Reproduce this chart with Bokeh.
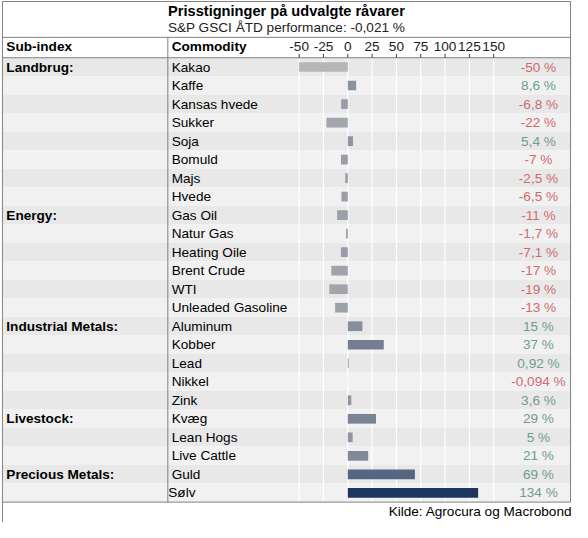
from bokeh.plotting import figure
from bokeh.models import Range1d, ColumnDataSource
from bokeh.core.properties import value
from bokeh.embed import file_html
from bokeh.resources import INLINE

# ---------------- data ----------------
title = "Prisstigninger på udvalgte råvarer"
subtitle = "S&P GSCI ÅTD performance: -0,021 %"
source_note = "Kilde: Agrocura og Macrobond"

commodities = ["Kakao", "Kaffe", "Kansas hvede", "Sukker", "Soja", "Bomuld", "Majs", "Hvede",
               "Gas Oil", "Natur Gas", "Heating Oile", "Brent Crude", "WTI", "Unleaded Gasoline",
               "Aluminum", "Kobber", "Lead", "Nikkel", "Zink",
               "Kvæg", "Lean Hogs", "Live Cattle",
               "Guld", "Sølv"]
performance = [-50, 8.6, -6.8, -22, 5.4, -7, -2.5, -6.5,
               -11, -1.7, -7.1, -17, -19, -13,
               15, 37, 0.92, -0.094, 3.6,
               29, 5, 21,
               69, 134]
value_labels = ["-50 %", "8,6 %", "-6,8 %", "-22 %", "5,4 %", "-7 %", "-2,5 %", "-6,5 %",
                "-11 %", "-1,7 %", "-7,1 %", "-17 %", "-19 %", "-13 %",
                "15 %", "37 %", "0,92 %", "-0,094 %", "3,6 %",
                "29 %", "5 %", "21 %",
                "69 %", "134 %"]
subindex_names = ["Landbrug:", "Energy:", "Industrial Metals:", "Livestock:", "Precious Metals:"]
subindex_sizes = [8, 6, 5, 3, 2]
tick_values = [-50, -25, 0, 25, 50, 75, 100, 125, 150]
tick_labels = ["-50", "-25", "0", "25", "50", "75", "100", "125", "150"]

# ---------------- layout helpers (reference pixel -> data units) ----------------
W, H = 572, 522
REF_W, REF_H = 588, 538
F = W / REF_W
ZERO_X = 357.0
ROW_TOP = 59.0
ROW_H = (517.0 - 59.0) / len(commodities)

def vx(X):
    return X - ZERO_X

def ry(Y):
    return (Y - ROW_TOP) / ROW_H - 0.5

def fs(px):
    return f"{px * F:.1f}px"

FONT = value("Liberation Sans")
BORDER = "#808080"
TXT = "#000000"

p = figure(width=W, height=H, x_range=Range1d(vx(0), vx(REF_W)), y_range=Range1d(ry(REF_H), ry(0)),
           output_backend="svg", toolbar_location=None, min_border=0,
           x_axis_type=None, y_axis_type=None)
p.grid.visible = False
p.outline_line_color = None
p.background_fill_color = "white"
p.border_fill_color = "white"

n = len(commodities)
rows = list(range(n))

# row shading
row_colors = ["#e8e8e8" if i % 2 == 0 else "#f1f1f1" for i in rows]
p.hbar(y=rows, left=vx(2), right=vx(586), height=1.0, fill_color=row_colors, line_color=None)

# vertical white grid lines in the bar area
p.segment(x0=tick_values, x1=tick_values, y0=[-0.5] * len(tick_values), y1=[n - 0.5] * len(tick_values),
          line_color="white", line_width=1.2)

# bars, colour from light grey (negative) to navy (large positive)
def bar_color(v):
    lo, mid, hi = (182, 182, 182), (148, 153, 164), (28, 54, 94)
    if v < 0:
        t = min(-v / 50.0, 1.0)
        c = [mid[k] + (lo[k] - mid[k]) * t for k in range(3)]
    else:
        t = min(v / 134.0, 1.0)
        c = [mid[k] + (hi[k] - mid[k]) * t for k in range(3)]
    return "#%02x%02x%02x" % tuple(int(round(x)) for x in c)

bar_src = ColumnDataSource(dict(y=rows, right=performance, color=[bar_color(v) for v in performance]))
p.hbar(y="y", left=0, right="right", height=10.0 / ROW_H, fill_color="color", line_color=None, source=bar_src)

# borders
hl = dict(line_color=BORDER, line_width=1)
p.segment(x0=[vx(2), vx(2), vx(2), vx(2)], x1=[vx(586)] * 4,
          y0=[ry(1), ry(38), ry(59), ry(517)], y1=[ry(1), ry(38), ry(59), ry(517)], **hl)
p.segment(x0=[vx(2), vx(586), vx(172)], x1=[vx(2), vx(586), vx(172)],
          y0=[ry(1), ry(1), ry(38)], y1=[ry(538), ry(517), ry(517)], **hl)

# tick marks and tick labels
p.segment(x0=tick_values, x1=tick_values, y0=[ry(55)] * len(tick_values), y1=[ry(59)] * len(tick_values),
          line_color="#404040", line_width=1)
p.text(x=tick_values, y=[ry(47)] * len(tick_values), text=tick_labels, text_font=FONT,
       text_font_size=fs(14), text_align="center", text_baseline="middle", text_color="#222222")

# title and subtitle
p.text(x=[vx(294)], y=[ry(11)], text=[title], text_font=FONT, text_font_size=fs(15),
       text_font_style="bold", text_align="center", text_baseline="middle", text_color=TXT)
p.text(x=[vx(294)], y=[ry(28)], text=[subtitle], text_font=FONT, text_font_size=fs(14),
       text_align="center", text_baseline="middle", text_color="#222222")

# header
p.text(x=[vx(6), vx(176)], y=[ry(47), ry(47)], text=["Sub-index", "Commodity"], text_font=FONT,
       text_font_size=fs(14), text_font_style="bold", text_align="left", text_baseline="middle",
       text_color=TXT)

# sub-index labels
sub_rows = []
acc = 0
for s in subindex_sizes:
    sub_rows.append(acc)
    acc += s
p.text(x=[vx(6)] * len(sub_rows), y=sub_rows, text=subindex_names, text_font=FONT,
       text_font_size=fs(14), text_font_style="bold", text_align="left", text_baseline="middle",
       text_color=TXT)

# commodity names
name_x = [vx(176)] * (n - 1) + [vx(172.5)]
p.text(x=name_x, y=rows, text=commodities, text_font=FONT, text_font_size=fs(14),
       text_align="left", text_baseline="middle", text_color=TXT)

# value labels
val_colors = ["#cf6b70" if v < 0 else "#6f9d8c" for v in performance]
p.text(x=[vx(553)] * n, y=rows, text=value_labels, text_font=FONT, text_font_size=fs(14),
       text_align="center", text_baseline="middle", text_color=val_colors)

# source
p.text(x=[vx(399)], y=[ry(527)], text=[source_note], text_font=FONT, text_font_size=fs(14),
       text_align="left", text_baseline="middle", text_color=TXT)

open("out.html", "w").write(file_html(p, INLINE))
